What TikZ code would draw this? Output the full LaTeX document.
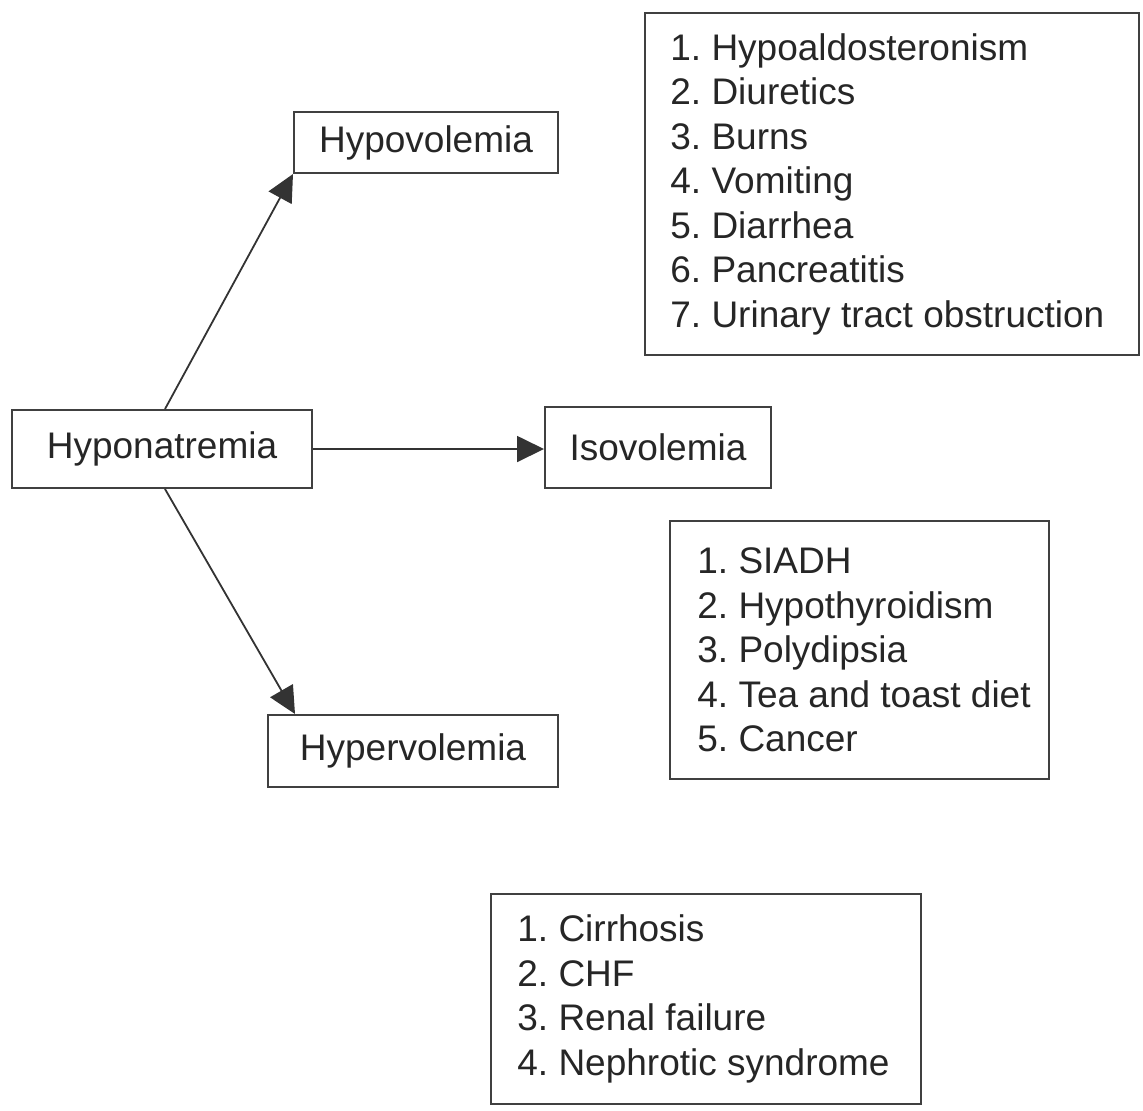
\documentclass[tikz,border=0pt]{standalone}
\usepackage{fontspec}
\setmainfont{Liberation Sans}
\usepackage{tikz}
\usetikzlibrary{positioning, arrows.meta}
\frenchspacing

\begin{document}
\begin{tikzpicture}[
            x=0.5pt, y=-0.5pt,
            every node/.style={font=\fontsize{18.5}{22.25}\selectfont, text=black!85},
            box/.style={rectangle, draw=black!75, line width=1pt, align=center, inner sep=0pt},
            listbox/.style={rectangle, draw=black!75, line width=1pt, anchor=north west, inner sep=0pt},
            listtext/.style={anchor=west, align=left, inner sep=0pt},
            arrow/.style={-{Triangle[length=13.5pt, width=13pt]}, line width=0.9pt, color=black!80}
        ]
            \useasboundingbox (0,0) rectangle (1143,1110);

            \node[box, minimum width=150pt, minimum height=39pt] (hypo) at (162,449) {Hyponatremia};
            \node[box, minimum width=132pt, minimum height=30.5pt] (hypov) at (426,142.5) {Hypovolemia};
            \node[box, minimum width=113pt, minimum height=40.5pt] (isov) at (658,447.5) {Isovolemia};
            \node[box, minimum width=145pt, minimum height=36pt] (hyperv) at (413,751) {Hypervolemia};

            % cause lists
            \node[listbox, minimum width=247pt, minimum height=171pt] (hypolist) at (644,12) {};
            \node[listtext, right=13pt of hypolist.west] (hypotext)
                {1. Hypoaldosteronism\\ 2. Diuretics\\ 3. Burns\\ 4. Vomiting\\ 5. Diarrhea\\ 6. Pancreatitis\\ 7. Urinary tract obstruction};
            \node[listbox, minimum width=189.5pt, minimum height=129pt] (isolist) at (669,520) {};
            \node[listtext, right=14pt of isolist.west] (isotext)
                {1. SIADH\\ 2. Hypothyroidism\\ 3. Polydipsia\\ 4. Tea and toast diet\\ 5. Cancer};
            \node[listbox, minimum width=215pt, minimum height=105pt] (hyperlist) at (490,893) {};
            \node[listtext, right=13.5pt of hyperlist.west] (hypertext)
                {1. Cirrhosis\\ 2. CHF\\ 3. Renal failure\\ 4. Nephrotic syndrome};

            \draw[arrow] ([xshift=1.5pt]hypo.north) -- (hypov.south west);
            \draw[arrow] (hypo.east) -- (hypo.east -| isov.west);
            \draw[arrow] ([xshift=1.5pt]hypo.south) -- ([xshift=14pt]hyperv.north west);
        \end{tikzpicture}
\end{document}
